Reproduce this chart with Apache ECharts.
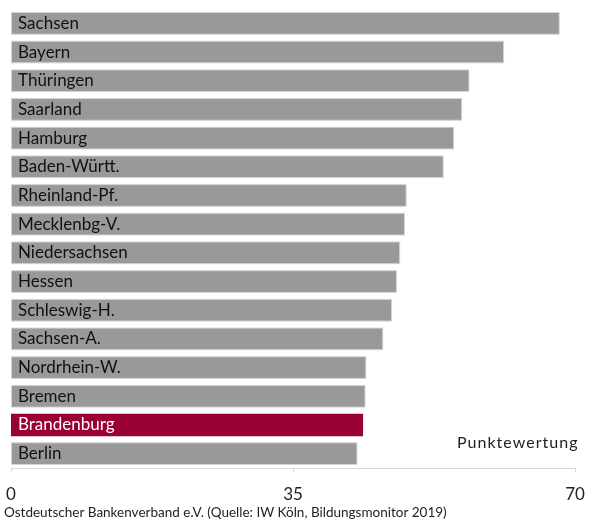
<!DOCTYPE html>
<html>
<head>
<meta charset="utf-8">
<script src="https://cdn.jsdelivr.net/npm/echarts@6/dist/echarts.min.js"></script>
<style>
  html, body { margin: 0; padding: 0; background: #fff; }
  #chart { width: 590px; height: 520px; }
</style>
</head>
<body>
<div id="chart"></div>
<script>
// Bundesländer, top to bottom
const states = ['Sachsen', 'Bayern', 'Thüringen', 'Saarland', 'Hamburg', 'Baden-Württ.',
  'Rheinland-Pf.', 'Mecklenbg-V.', 'Niedersachsen', 'Hessen', 'Schleswig-H.', 'Sachsen-A.',
  'Nordrhein-W.', 'Bremen', 'Brandenburg', 'Berlin']
const scores = [68.1, 61.2, 56.9, 56.0, 55.0, 53.7, 49.1, 48.9, 48.3, 47.9, 47.3, 46.2, 44.1, 44.0, 43.7, 43.0]
const highlight = 'Brandenburg'
const xTicks = [0, 35, 70]

const chart = echarts.init(document.getElementById('chart'))

const font = 'Lato, "Open Sans", sans-serif'

const option = {
  animation: false,
  grid: { left: 11, right: 15, top: 9, bottom: 52 },
  xAxis: {
    type: 'value',
    min: 0,
    max: 70,
    interval: 35,
    axisLine: { show: true, lineStyle: { color: '#d9d9d9', width: 1 } },
    axisTick: { show: true, length: 4, lineStyle: { color: '#d9d9d9' } },
    splitLine: { show: false },
    axisLabel: {
      color: '#222',
      fontSize: 17,
      fontFamily: font,
      margin: 18,
      formatter: v => xTicks.includes(v) ? String(v) : ''
    }
  },
  yAxis: {
    type: 'category',
    inverse: true,
    data: states,
    axisLine: { show: false },
    axisTick: { show: false },
    axisLabel: { show: false }
  },
  series: [{
    type: 'bar',
    barCategoryGap: '21%',
    data: states.map((s, i) => ({
      value: scores[i],
      itemStyle: s === highlight
        ? { color: '#990033', borderColor: '#990033', borderWidth: 0 }
        : { color: '#999999', borderColor: '#d4d4d4', borderWidth: 1 },
      label: { color: s === highlight ? '#ffffff' : '#111111' }
    })),
    label: {
      show: true,
      position: 'insideLeft',
      distance: 7,
      fontSize: 17,
      fontFamily: font,
      formatter: p => p.name
    }
  }],
  graphic: [
    {
      type: 'text',
      left: 457,
      top: 435,
      style: { text: 'P u n k t e w e r t u n g'.replace(/ /g, '\u200a'), fontSize: 16, fontFamily: font, fill: '#222' }
    },
    {
      type: 'text',
      left: 4,
      top: 506,
      style: {
        text: 'Ostdeutscher Bankenverband e.V. (Quelle: IW Köln, Bildungsmonitor 2019)',
        fontSize: 13.5,
        fontFamily: font,
        fill: '#222'
      }
    }
  ]
}

chart.setOption(option)
</script>
</body>
</html>
